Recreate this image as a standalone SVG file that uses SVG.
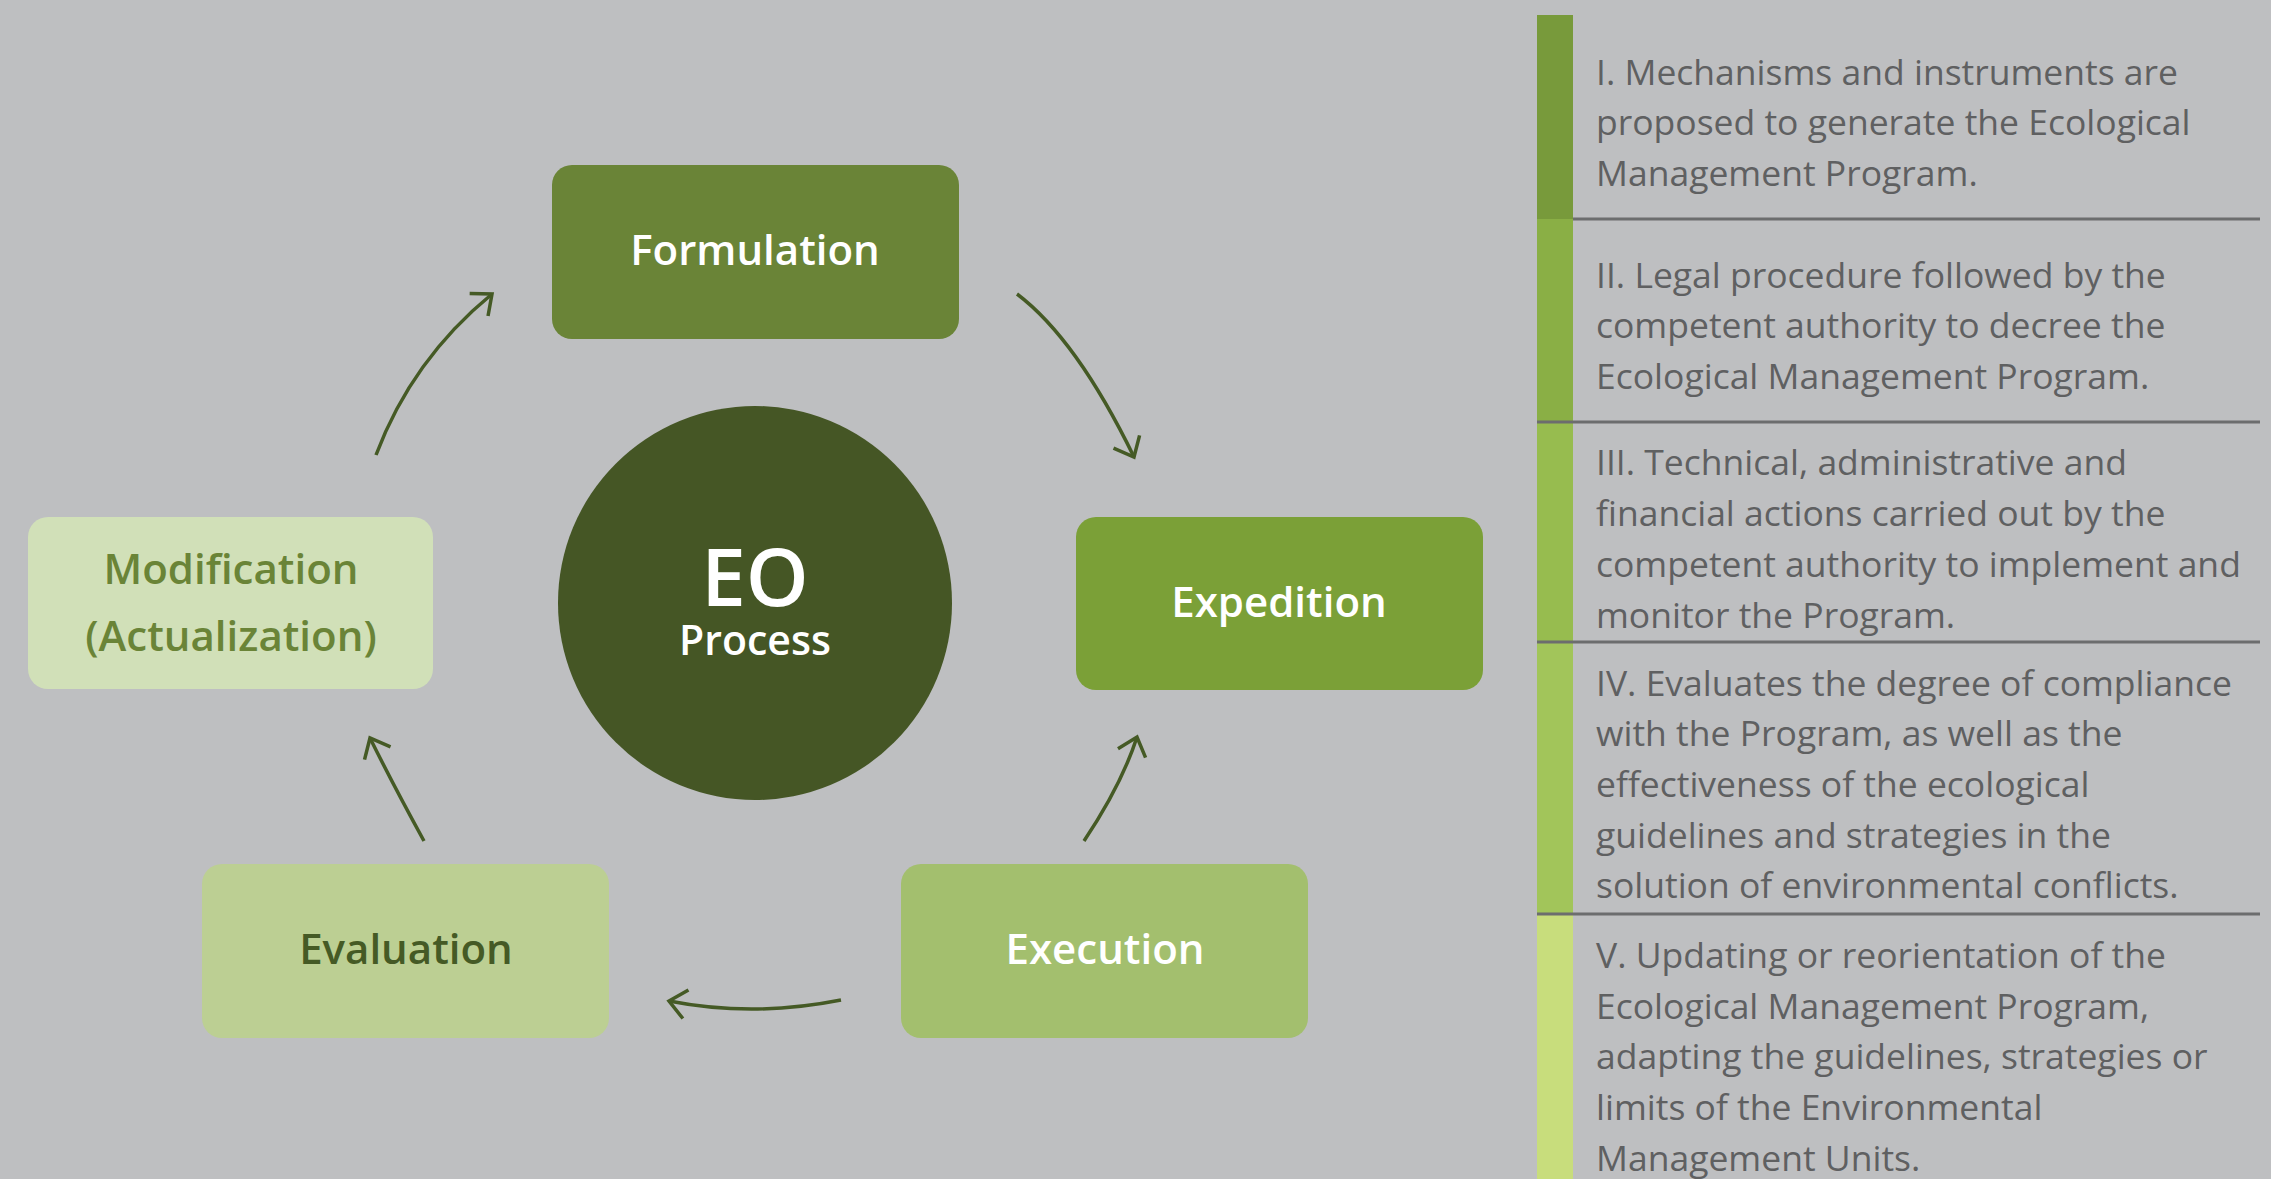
<svg xmlns="http://www.w3.org/2000/svg" width="2271" height="1179" viewBox="0 0 2271 1179">
  <style>
    .node-label { font-family: "Open Sans", "Liberation Sans", sans-serif; font-weight: 600; font-size: 42px; text-anchor: middle; }
    .light { fill: #ffffff; }
    .eo { font-size: 80px; }
    .process { font-size: 41px; }
    .desc { font-family: "Open Sans", "Liberation Sans", sans-serif; font-size: 35.5px; fill: #5f6061; }
    .sep { stroke: #6c6d6e; stroke-width: 3; }
    .link { fill: none; stroke: #455a25; stroke-width: 3.5; marker-end: url(#chevron); }
  </style>
  <defs>
    <marker id="chevron" markerUnits="userSpaceOnUse" markerWidth="40" markerHeight="40" viewBox="-20 -20 40 40" refX="0" refY="0" orient="auto" overflow="visible">
      <path d="M-17,-14.5 L0,0 L-17,14.5" fill="none" stroke="#455a25" stroke-width="3.5" stroke-linejoin="miter"/>
    </marker>
  </defs>

  <rect width="2271" height="1179" fill="#bebfc1"/>

  <!-- cycle nodes -->
  <g id="node-formulation">
    <rect x="552" y="165" width="407" height="174" rx="20" fill="#6a8437"/>
    <text class="node-label light" x="755" y="265">Formulation</text>
  </g>
  <g id="node-expedition">
    <rect x="1076" y="517" width="407" height="173" rx="20" fill="#7ba037"/>
    <text class="node-label light" x="1279" y="617">Expedition</text>
  </g>
  <g id="node-execution">
    <rect x="901" y="864" width="407" height="174" rx="20" fill="#a3bf6e"/>
    <text class="node-label light" x="1105" y="964">Execution</text>
  </g>
  <g id="node-evaluation">
    <rect x="202" y="864" width="407" height="174" rx="20" fill="#bccf93"/>
    <text class="node-label" x="406" y="964" fill="#455a25">Evaluation</text>
  </g>
  <g id="node-modification">
    <rect x="28" y="517" width="405" height="172" rx="20" fill="#d1e0b8"/>
    <text class="node-label" x="231" y="584" fill="#6a8437">Modification</text>
    <text class="node-label" x="231" y="651" fill="#6a8437">(Actualization)</text>
  </g>
  <g id="node-center">
    <circle cx="755" cy="603" r="197" fill="#455625"/>
    <text class="node-label light eo" x="755" y="606">EO</text>
    <text class="node-label light process" x="755" y="655">Process</text>
  </g>

  <!-- connectors -->
  <g id="connectors">
    <path class="link" d="M1017,294 Q1076.5,339 1134,457"/>
    <path class="link" d="M1084,841 Q1121.5,785 1137,737"/>
    <path class="link" d="M841,1000 Q753,1017.5 669,1001"/>
    <path class="link" d="M424,841 Q393,784.5 370,738"/>
    <path class="link" d="M376,455 Q412,359.5 492,294"/>
  </g>

  <!-- stage descriptions -->
  <g id="legend">
    <rect x="1537" y="15" width="36" height="204" fill="#789a3b"/>
    <rect x="1537" y="219" width="36" height="203" fill="#8aaf45"/>
    <rect x="1537" y="422" width="36" height="220" fill="#97bc4f"/>
    <rect x="1537" y="642" width="36" height="272" fill="#a2c55a"/>
    <rect x="1537" y="914" width="36" height="265" fill="#c8dd7c"/>
    <line class="sep" x1="1573" y1="219" x2="2260" y2="219"/>
    <line class="sep" x1="1537" y1="422" x2="2260" y2="422"/>
    <line class="sep" x1="1537" y1="642" x2="2260" y2="642"/>
    <line class="sep" x1="1537" y1="914" x2="2260" y2="914"/>

    <text class="desc" x="1596" y="85">I. Mechanisms and instruments are</text>
    <text class="desc" x="1596" y="135">proposed to generate the Ecological</text>
    <text class="desc" x="1596" y="186">Management Program.</text>

    <text class="desc" x="1596" y="288">II. Legal procedure followed by the</text>
    <text class="desc" x="1596" y="338">competent authority to decree the</text>
    <text class="desc" x="1596" y="389">Ecological Management Program.</text>

    <text class="desc" x="1596" y="475">III. Technical, administrative and</text>
    <text class="desc" x="1596" y="526">financial actions carried out by the</text>
    <text class="desc" x="1596" y="577">competent authority to implement and</text>
    <text class="desc" x="1596" y="628">monitor the Program.</text>

    <text class="desc" x="1596" y="696">IV. Evaluates the degree of compliance</text>
    <text class="desc" x="1596" y="746">with the Program, as well as the</text>
    <text class="desc" x="1596" y="797">effectiveness of the ecological</text>
    <text class="desc" x="1596" y="848">guidelines and strategies in the</text>
    <text class="desc" x="1596" y="898">solution of environmental conflicts.</text>

    <text class="desc" x="1596" y="968">V. Updating or reorientation of the</text>
    <text class="desc" x="1596" y="1019">Ecological Management Program,</text>
    <text class="desc" x="1596" y="1069">adapting the guidelines, strategies or</text>
    <text class="desc" x="1596" y="1120">limits of the Environmental</text>
    <text class="desc" x="1596" y="1171">Management Units.</text>
  </g>
</svg>
